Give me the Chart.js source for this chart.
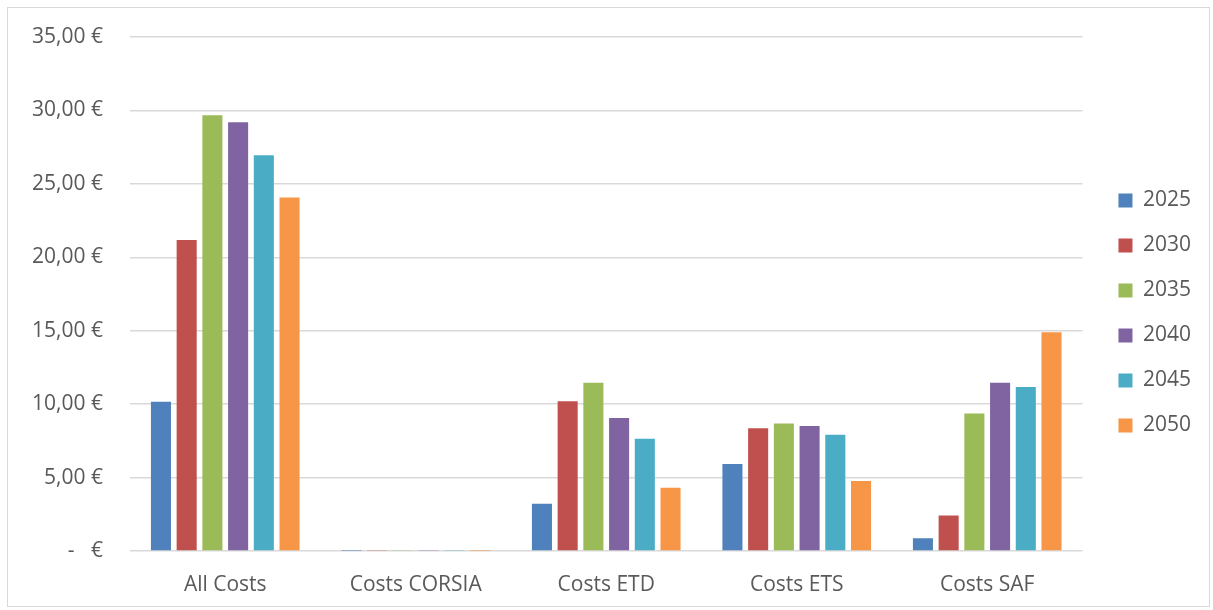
<!DOCTYPE html>
<html>
<head>
<meta charset="utf-8">
<script src="https://cdn.jsdelivr.net/npm/chart.js@4.4.1/dist/chart.umd.min.js"></script>
<style>
  html, body { margin: 0; padding: 0; background: #fff; }
  #box {
    position: absolute; left: 7px; top: 7px;
    width: 1203px; height: 600px;
    border: 1px solid #d9d9d9; box-sizing: border-box;
  }
  #chart { display: block; }
</style>
</head>
<body>
<div id="box"><canvas id="chart" width="1201" height="598"></canvas></div>
<script>
// Kostenblöcke je Stützjahr (€)
var categories = ['All Costs', 'Costs CORSIA', 'Costs ETD', 'Costs ETS', 'Costs SAF'];
var years = ['2025', '2030', '2035', '2040', '2045', '2050'];
var colors = ['#4F81BD', '#C0504D', '#9BBB59', '#8064A2', '#4BACC6', '#F79646'];

var v2025 = [10.17, 0.02, 3.21, 5.93, 0.86];
var v2030 = [21.18, 0.06, 10.20, 8.35, 2.41];
var v2035 = [29.68, 0.04, 11.45, 8.69, 9.36];
var v2040 = [29.20, 0.03, 9.05, 8.51, 11.45];
var v2045 = [26.95, 0.06, 7.65, 7.92, 11.16];
var v2050 = [24.07, 0.01, 4.30, 4.77, 14.90];

var yTicks = [0, 5, 10, 15, 20, 25, 30, 35];

var series = [v2025, v2030, v2035, v2040, v2045, v2050];
var textColor = '#595959';
var fontFamily = '"Open Sans", "Liberation Sans", sans-serif';
var fontSize = 21;

function euro(v) {
    if (v === 0) return '-   €';
    return v.toFixed(2).replace('.', ',') + ' €';
}

var datasets = years.map(function (y, i) {
    return {
        label: y,
        data: series[i],
        backgroundColor: colors[i],
        borderWidth: 0,
        barPercentage: 0.78,
        categoryPercentage: 0.81
    };
});

// legend sits a bit further right and higher than the default right-hand placement
var legendNudge = {
    id: 'legendNudge',
    afterLayout: function (chart) {
        var lg = chart.legend;
        if (!lg) return;
        lg.left += 12;
        lg.right += 12;
        lg.top -= 17;
    }
};

new Chart(document.getElementById('chart'), {
    type: 'bar',
    data: { labels: categories, datasets: datasets },
    plugins: [legendNudge],
    options: {
        responsive: false,
        animation: false,
        layout: { padding: { top: 29, right: 20, left: 0, bottom: 0 } },
        plugins: {
            tooltip: { enabled: false },
            legend: {
                position: 'right',
                labels: {
                    boxWidth: 14,
                    boxHeight: 14,
                    padding: 24,
                    color: textColor,
                    font: { family: fontFamily, size: fontSize }
                }
            }
        },
        scales: {
            x: {
                grid: { display: false, drawTicks: false },
                border: { display: false },
                ticks: { color: textColor, padding: 21, font: { family: fontFamily, size: fontSize } },
                afterFit: function (s) { s.height = 55; }
            },
            y: {
                min: 0,
                max: 35,
                afterBuildTicks: function (s) {
                    s.ticks = yTicks.map(function (v) { return { value: v }; });
                },
                grid: { color: '#d9d9d9', lineWidth: 1.5, drawTicks: false },
                border: { display: false },
                ticks: {
                    color: textColor,
                    padding: 27,
                    font: { family: fontFamily, size: fontSize },
                    callback: function (v) { return euro(v); }
                },
                afterFit: function (s) {
                    s.width = 122;
                    s.paddingTop = 0;
                    s.paddingBottom = 0;
                }
            }
        }
    }
});
</script>
</body>
</html>
